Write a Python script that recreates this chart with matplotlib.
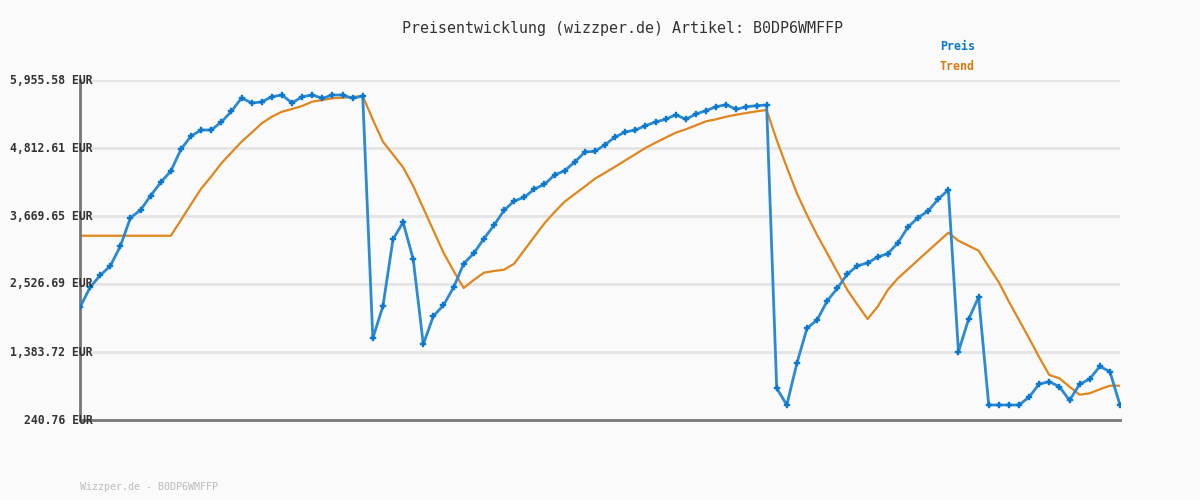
import matplotlib.pyplot as plt
import numpy as np

# values (EUR)
preis = [2135, 2471, 2673, 2829, 3165, 3641, 3770, 4011, 4236, 4426,
         4791, 5014, 5115, 5115, 5250, 5429, 5653, 5569, 5586, 5675,
         5703, 5569, 5675, 5703, 5648, 5703, 5703, 5648, 5687, 1614,
         2152, 3278, 3564, 2942, 1513, 1989, 2169, 2471, 2868, 3043,
         3288, 3513, 3765, 3922, 3984, 4123, 4202, 4359, 4431, 4577,
         4745, 4757, 4868, 4997, 5082, 5115, 5187, 5250, 5295, 5372,
         5295, 5384, 5440, 5507, 5540, 5463, 5507, 5524, 5535, 774,
         493, 1194, 1782, 1922, 2241, 2454, 2695, 2834, 2880, 2981,
         3036, 3216, 3485, 3641, 3754, 3955, 4107, 1389, 1933, 2308,
         493, 493, 493, 493, 627, 846, 885, 800, 572, 841,
         930, 1143, 1053, 493]

trend = [3338, 3338, 3338, 3338, 3338, 3338, 3338, 3338, 3338, 3338,
         3602, 3868, 4129, 4334, 4555, 4737, 4919, 5070, 5228, 5339,
         5423, 5468, 5519, 5591, 5619, 5648, 5658, 5670, 5687, 5290,
         4919, 4703, 4488, 4174, 3801, 3428, 3053, 2747, 2459, 2594,
         2717, 2745, 2767, 2868, 3095, 3322, 3547, 3737, 3910, 4039,
         4165, 4297, 4397, 4498, 4604, 4708, 4813, 4902, 4986, 5070,
         5127, 5194, 5261, 5295, 5339, 5372, 5401, 5429, 5451, 4947,
         4488, 4051, 3686, 3350, 3043, 2733, 2426, 2179, 1938, 2145,
         2426, 2622, 2775, 2930, 3083, 3236, 3389, 3254, 3170, 3086,
         2817, 2555, 2229, 1922, 1614, 1295, 997, 942, 800, 666,
         690, 757, 817, 817]

y_ticks = [240.76, 1383.72, 2526.69, 3669.65, 4812.61, 5955.58]
y_labels = ["240.76 EUR", "1,383.72 EUR", "2,526.69 EUR",
            "3,669.65 EUR", "4,812.61 EUR", "5,955.58 EUR"]

title = "Preisentwicklung (wizzper.de) Artikel: B0DP6WMFFP"
footer = "Wizzper.de - B0DP6WMFFP"

bg = "#fafafa"
blue = "#0a78cc"
orange = "#e0861c"
mono = "DejaVu Sans Mono"

fig = plt.figure(figsize=(12, 5), dpi=100, facecolor=bg)
ax = fig.add_axes([80 / 1200, 80 / 500, 1040 / 1200, 340 / 500])
ax.set_facecolor(bg)

x = np.arange(len(preis))
ax.set_xlim(0, len(preis) - 1)
ax.set_ylim(y_ticks[0], y_ticks[-1])

for t in y_ticks:
    ax.axhline(t, color="#e4e4e4", lw=2, zorder=0)

ax.plot(x, trend, color=orange, lw=1.6, zorder=2)
ax.plot(x, preis, color="#2b8ad2", lw=2, zorder=3,
        marker="P", markersize=4, markerfacecolor=blue, markeredgecolor=blue,
        markeredgewidth=0.3)

for s in ["top", "right"]:
    ax.spines[s].set_visible(False)
for s in ["left", "bottom"]:
    ax.spines[s].set_color("#777777")
    ax.spines[s].set_linewidth(2)
ax.set_xticks([])
ax.set_yticks([])

for t, lab in zip(y_ticks, y_labels):
    ax.text(13 / 1040, t, lab, transform=ax.get_yaxis_transform(),
            ha="right", va="center", fontsize=8.3, fontweight="bold",
            family=mono, color="#333333", zorder=5)

fig.text(623 / 1200, 1 - 28 / 500, title, ha="center", va="center",
         fontsize=10.8, family=mono, color="#333333")
fig.text(940 / 1200, 1 - 47 / 500, "Preis", ha="left", va="center",
         fontsize=8.4, fontweight="bold", family=mono, color=blue)
fig.text(940 / 1200, 1 - 67 / 500, "Trend", ha="left", va="center",
         fontsize=8.4, fontweight="bold", family=mono, color="#d87a10")
fig.text(80 / 1200, 1 - 487 / 500, footer, ha="left", va="center",
         fontsize=7.2, family=mono, color="#bbbbbb")

fig.savefig("out.png", dpi=100, facecolor=bg)
